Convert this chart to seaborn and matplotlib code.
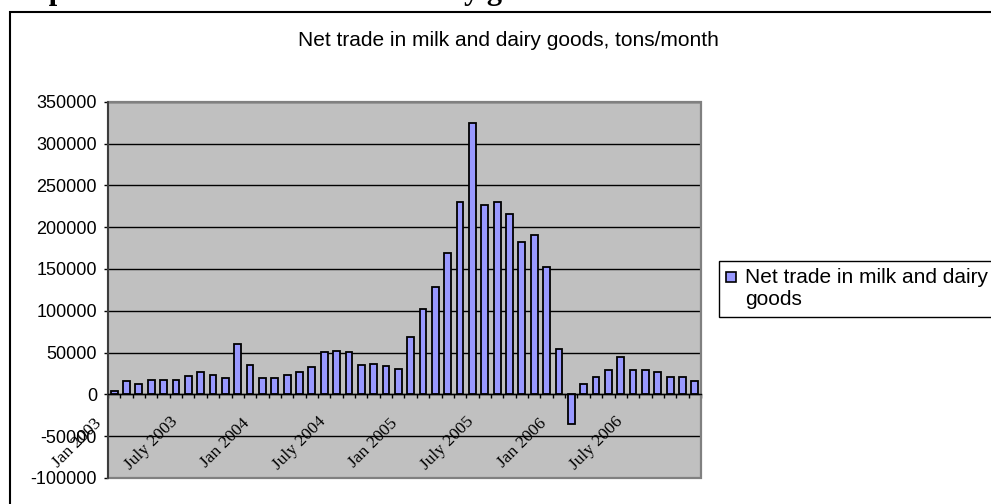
import matplotlib
matplotlib.use("Agg")
import matplotlib.pyplot as plt
from matplotlib.patches import Rectangle
from matplotlib.legend_handler import HandlerPatch
from matplotlib.transforms import ScaledTranslation
import numpy as np
import pandas as pd
import seaborn as sns

# Monthly net trade in milk and dairy goods, tons/month (Jan 2003 - Dec 2006)
month_names = ["Jan", "Feb", "Mar", "Apr", "May", "June",
               "July", "Aug", "Sep", "Oct", "Nov", "Dec"]
years = [2003, 2004, 2005, 2006]
net_trade = [
    4000, 16000, 12000, 17000, 17000, 17000, 21500, 27000, 23500, 19500, 60000, 35000,
    19500, 19500, 23500, 27000, 33000, 50600, 52000, 50600, 34700, 36700, 33500, 30700,
    68500, 101600, 128700, 169000, 229500, 324000, 226000, 229500, 216000, 181700, 190800, 151800,
    54600, -36000, 13000, 21000, 29000, 44600, 29000, 29000, 27000, 21000, 21000, 15500,
]
tick_labels = ["Jan 2003", "July 2003", "Jan 2004", "July 2004",
               "Jan 2005", "July 2005", "Jan 2006", "July 2006"]
y_ticks = [-100000, -50000, 0, 50000, 100000, 150000, 200000, 250000, 300000, 350000]

series_name = "Net trade in milk and dairy goods"
months = [f"{m} {y}" for y in years for m in month_names]
df = pd.DataFrame({"month": months, "tons": net_trade})

plt.rcParams["axes.unicode_minus"] = False
plt.rcParams["font.family"] = ["Liberation Sans", "DejaVu Sans"]

W, H = 991, 504
fig = plt.figure(figsize=(W / 100, H / 100), dpi=100)
fig.patch.set_facecolor("white")

# plot area in pixel coordinates
x0, x1, ytop, ybot = 108, 701, 101.7, 478
ax = fig.add_axes([x0 / W, 1 - ybot / H, (x1 - x0) / W, (ybot - ytop) / H])
ax.set_facecolor("#C0C0C0")

bar_color = "#9999FF"
sns.barplot(data=df, x="month", y="tons", color=bar_color, saturation=1,
            edgecolor="black", linewidth=1.3, width=0.55, ax=ax, zorder=3)

ax.set_xlim(-0.5, len(months) - 0.5)
ax.set_ylim(y_ticks[0], y_ticks[-1])
ax.set_xlabel("")
ax.set_ylabel("")

# horizontal gridlines
ax.set_yticks(y_ticks)
ax.set_yticklabels([str(v) for v in y_ticks], fontsize=13, color="black")
ax.yaxis.grid(True, color="black", linewidth=1)
ax.xaxis.grid(False)
ax.set_axisbelow(True)

# category axis sits on the zero line
ax.spines["bottom"].set_position(("data", 0))
ax.spines["bottom"].set_color("black")
ax.spines["bottom"].set_linewidth(1)
ax.spines["bottom"].set_zorder(4)
ax.spines["left"].set_color("#303030")
ax.spines["left"].set_linewidth(1.2)
ax.spines["top"].set_visible(False)
ax.spines["right"].set_visible(False)

label_pos = [months.index(("July" if lbl.startswith("July") else "Jan") + " " + lbl.split()[1])
             for lbl in tick_labels]
ax.set_xticks(label_pos)
ax.set_xticklabels(tick_labels, rotation=45, ha="center", va="center",
                   rotation_mode="anchor", fontsize=12.5,
                   family=["Liberation Serif", "DejaVu Serif"])
ax.set_xticks(np.arange(-0.5, len(months), 1), minor=True)
ax.tick_params(axis="x", which="major", length=0, pad=0)
ax.tick_params(axis="x", which="minor", length=3, width=1, color="black", direction="out")
ax.tick_params(axis="y", which="major", length=3, width=1, color="black", direction="out", pad=5)

# slanted month labels sit down and to the left of their bars
shift = ScaledTranslation(-37 / 100, -49 / 100, fig.dpi_scale_trans)
for lbl in ax.get_xticklabels():
    lbl.set_transform(lbl.get_transform() + shift)

# gray border round the plot area
ax.add_patch(Rectangle((0, 0), 1, 1, transform=ax.transAxes, fill=False,
                       edgecolor="#808080", linewidth=1.6, clip_on=False, zorder=2))

# chart title
fig.text(508 / W, 1 - 41 / H, "Net trade in milk and dairy goods, tons/month",
         ha="center", va="center", fontsize=15, color="black")

# legend with the square key beside the first text line
def top_square(legend, orig_handle, xdescent, ydescent, width, height, fontsize):
    size = 0.48 * fontsize
    return Rectangle((-xdescent, -ydescent + 0.6 * fontsize), size, size)

key = Rectangle((0, 0), 1, 1, facecolor=bar_color, edgecolor="black", linewidth=1.2)
leg = ax.legend(handles=[key], labels=["Net trade in milk and dairy\ngoods"],
                loc="upper left", bbox_to_anchor=(719 / W, 1 - 261 / H),
                bbox_transform=fig.transFigure, fontsize=15, frameon=True,
                fancybox=False, edgecolor="black", framealpha=1, borderaxespad=0,
                borderpad=0.35, handlelength=0.48, handleheight=0.48, handletextpad=0.43,
                labelspacing=0.2,
                handler_map={Rectangle: HandlerPatch(patch_func=top_square)})
leg.get_frame().set_linewidth(1)

# outer chart frame
fig.add_artist(Rectangle((10 / W, -0.2), 1.5, 1 - 12 / H + 0.2, transform=fig.transFigure,
                         fill=False, edgecolor="black", linewidth=1.5))

# document caption above the chart (only its descenders fall inside the page)
fig.text(-4 / W, 1 + 0.5 / H, "Graph 1. Net trade in milk and dairy goods",
         ha="left", va="baseline", fontsize=22, fontweight="bold",
         family=["Liberation Serif", "DejaVu Serif"])

fig.savefig("out.png", dpi=100)
